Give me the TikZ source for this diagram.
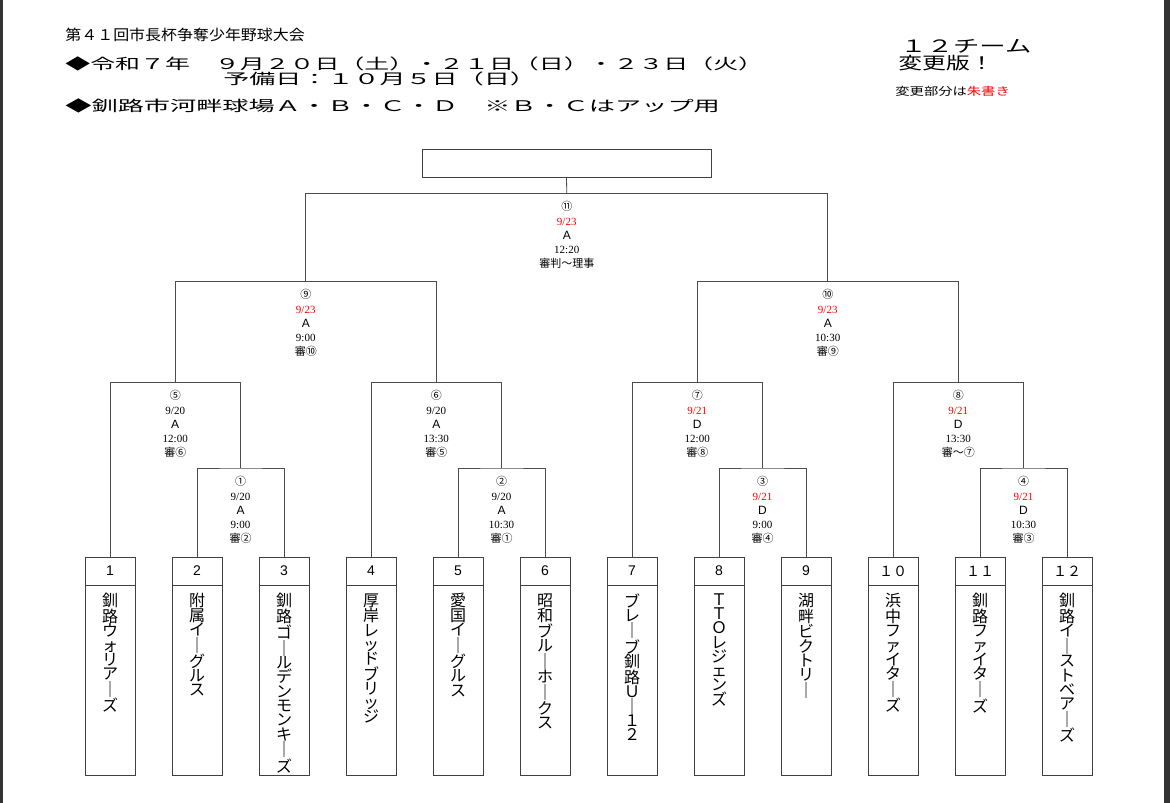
\documentclass[tikz,border=0pt]{standalone}
\usepackage{fontspec}
\usepackage{graphicx}
\setmainfont{Liberation Serif}
\newfontfamily\jp{Noto Sans CJK JP}
\newfontfamily\lsans{Liberation Sans}
\begin{document}
\begin{tikzpicture}[x=1pt,y=-1pt,line width=0.8pt,
  team/.style={draw=black!75,minimum width=50pt,minimum height=218pt,anchor=north,inner sep=0},
  num/.style={font=\lsans\fontsize{14}{14}\selectfont,anchor=center},
  tname/.style={font=\jp\fontsize{16}{14.3}\selectfont,align=center,anchor=north,inner sep=0},
  info/.style={font=\fontsize{11}{14.3}\selectfont,align=center,anchor=north,inner sep=0},
  hd/.style={anchor=west,inner sep=0,font=\jp\fontsize{14}{14}\selectfont},
  br/.style={draw=black!70}]
\fill[white](0,0)rectangle(1170,803);
\fill[black!80](0,0)rectangle(3,803);
\fill[black!80](1164,0)rectangle(1170,803);
\useasboundingbox(0,0)rectangle(1170,803);
% header
\node[hd] (t1) at (65,35) {\scalebox{1.14}[1.05]{第４１回市長杯争奪少年野球大会}};
\node[hd] (t2) at (65,64) {\scalebox{1.78}[1.05]{◆令和７年　９月２０日（土）・２１日（日）・２３日（火）}};
\node[hd] (t3) at (223,79) {\scalebox{1.86}[1.05]{予備日：１０月５日（日）}};
\node[hd] (t4) at (65,106) {\scalebox{1.87}[1.05]{◆釧路市河畔球場Ａ・Ｂ・Ｃ・Ｄ　※Ｂ・Ｃはアップ用}};
\node[hd] (r1) at (900,46) {\scalebox{1.55}[1]{\fontsize{17}{14}\selectfont １２チーム}};
\node[hd] (r2) at (898,63) {\scalebox{1.4}[1]{\fontsize{17}{14}\selectfont 変更版！}};
\node[hd] (r3) at (895,91) {\scalebox{1.3}[1]{\fontsize{11}{14}\selectfont 変更部分は\textcolor{red}{朱書き}}};
% winner box
\node[draw=black!75,minimum width=289pt,minimum height=28pt,inner sep=0] (win) at (566.5,163) {};
% teams
\foreach \i/\x/\n in {1/110/{釧\\路\\ウ\\ォ\\リ\\ア\\｜\\ズ},
  2/197/{附\\属\\イ\\｜\\グ\\ル\\ス},
  3/284/{釧\\路\\ゴ\\｜\\ル\\デ\\ン\\モ\\ン\\キ\\｜\\ズ},
  4/371/{厚\\岸\\レ\\ッ\\ド\\ブ\\リ\\ッ\\ジ},
  5/458/{愛\\国\\イ\\｜\\グ\\ル\\ス},
  6/545/{昭\\和\\ブ\\ル\\｜\\ホ\\｜\\ク\\ス},
  7/632/{ブ\\レ\\｜\\ブ\\釧\\路\\Ｕ\\｜\\１\\２},
  8/719/{Ｔ\\Ｔ\\Ｏ\\レ\\ジ\\ェ\\ン\\ズ},
  9/806/{湖\\畔\\ビ\\ク\\ト\\リ\\｜},
  10/893/{浜\\中\\フ\\ァ\\イ\\タ\\｜\\ズ},
  11/980/{釧\\路\\フ\\ァ\\イ\\タ\\｜\\ズ},
  12/1067/{釧\\路\\イ\\｜\\ス\\ト\\ベ\\ア\\｜\\ズ}}{
  \node[team] (b\i) at (\x,557) {};
  \draw[black!75] (\x-25,585) -- (\x+25,585);
  \node[num] (n\i) at (\x,571) {\ifnum\i>9 \jp\fontsize{14}{14}\selectfont\ifnum\i=10 １０\else\ifnum\i=11 １１\else １２\fi\fi\else\i\fi};
  \node[tname] (s\i) at (\x,593) {\n};
}
% brackets
\coordinate (m1) at (240.5,468); \coordinate (m2) at (501.5,468);
\coordinate (m3) at (762.5,468); \coordinate (m4) at (1023.5,468);
\coordinate (m5) at (175.25,382); \coordinate (m6) at (436.25,382);
\coordinate (m7) at (697.25,382); \coordinate (m8) at (958.25,382);
\coordinate (m9) at (305.75,281); \coordinate (m10) at (827.75,281);
\coordinate (m11) at (566.75,193);
\draw[br] (b2.north) |- (m1) -| (b3.north);
\draw[br] (b5.north) |- (m2) -| (b6.north);
\draw[br] (b8.north) |- (m3) -| (b9.north);
\draw[br] (b11.north) |- (m4) -| (b12.north);
\draw[br] (b1.north) -- (110,382) -- (240.5,382) -- (m1);
\draw[br] (b4.north) -- (371,382) -- (501.5,382) -- (m2);
\draw[br] (b7.north) -- (632,382) -- (762.5,382) -- (m3);
\draw[br] (b10.north) -- (893,382) -- (1023.5,382) -- (m4);
\draw[br] (m5) -- (175.25,281) -- (436.25,281) -- (m6);
\draw[br] (m7) -- (697.25,281) -- (958.25,281) -- (m8);
\draw[br] (m9) -- (305.75,193) -- (827.75,193) -- (m10);
\draw[br] (m11) -- (win.south);
% labels
\newcommand\lab[6]{\node[info] at (#1) {{\jp\fontsize{11}{11}\selectfont #2}\\#3\\{\lsans\fontsize{12}{12}\selectfont #4}\\#5\\{\jp\fontsize{11}{11}\selectfont 審#6}};}
\lab{240.5,476}{①}{9/20}{A}{9:00}{②}
\lab{501.5,476}{②}{9/20}{A}{10:30}{①}
\lab{762.5,476}{③}{\textcolor{red}{9/21}}{D}{9:00}{④}
\lab{1023.5,476}{④}{\textcolor{red}{9/21}}{D}{10:30}{③}
\lab{175.25,390}{⑤}{9/20}{A}{12:00}{⑥}
\lab{436.25,390}{⑥}{9/20}{A}{13:30}{⑤}
\lab{697.25,390}{⑦}{\textcolor{red}{9/21}}{D}{12:00}{⑧}
\lab{958.25,390}{⑧}{\textcolor{red}{9/21}}{D}{13:30}{～⑦}
\lab{305.75,289}{⑨}{\textcolor{red}{9/23}}{A}{9:00}{⑩}
\lab{827.75,289}{⑩}{\textcolor{red}{9/23}}{A}{10:30}{⑨}
\lab{566.75,201}{⑪}{\textcolor{red}{9/23}}{A}{12:20}{判～理事}
\end{tikzpicture}
\end{document}
